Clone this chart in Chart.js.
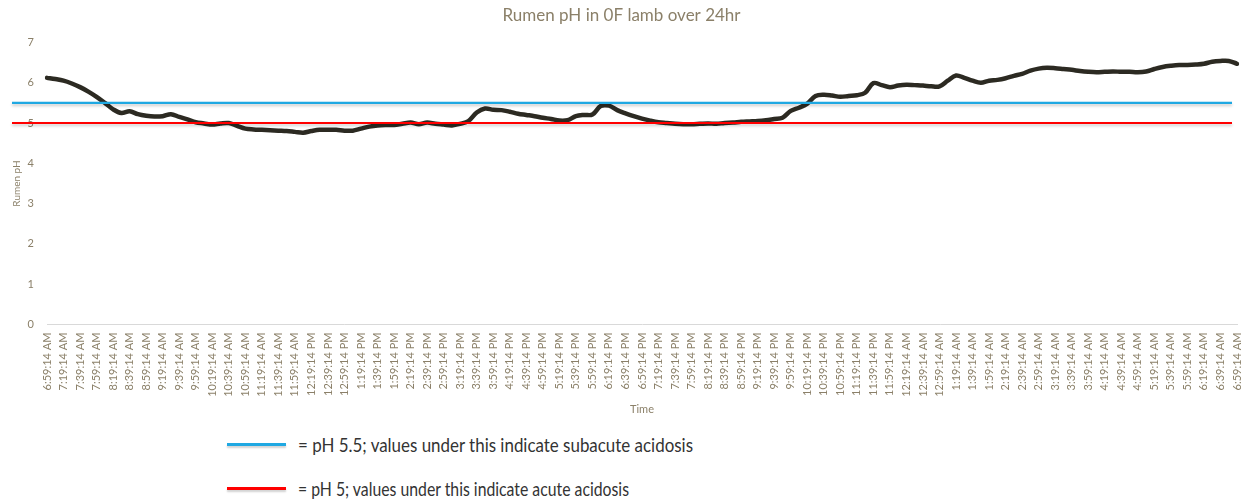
<!DOCTYPE html>
<html>
<head>
<meta charset="utf-8">
<script src="https://cdn.jsdelivr.net/npm/chart.js@4/dist/chart.umd.min.js"></script>
<style>
  html, body { margin: 0; padding: 0; background: #fff; }
  body { width: 1243px; height: 504px; position: relative; overflow: hidden; font-family: "Lato", "Noto Sans", sans-serif; }
  #wrap { position: absolute; left: 0; top: 0; width: 1243px; height: 420px; }
  .leg { position: absolute; left: 227px; height: 24px; color: #333; font-size: 20px; white-space: nowrap; }
  .leg .sw { position: absolute; left: 0; top: 11px; width: 59px; height: 3px; box-shadow: 0 2px 2px rgba(0,0,0,0.18); }
  .leg .tx { position: absolute; left: 71px; top: 0; line-height: 24px; transform-origin: 0 50%; display: inline-block; }
</style>
</head>
<body>
<div id="wrap"><canvas id="c" width="1243" height="420"></canvas></div>
<div class="leg" style="top:432px"><span class="sw" style="background:#1fa8e2"></span><span class="tx">= pH 5.5; values under this indicate subacute acidosis</span></div>
<div class="leg" style="top:476px"><span class="sw" style="background:#ff0000"></span><span class="tx">= pH 5; values under this indicate acute acidosis</span></div>
<script>
// Tick labels every 20 minutes
const tickLabels = [
  "6:59:14 AM","7:19:14 AM","7:39:14 AM","7:59:14 AM","8:19:14 AM","8:39:14 AM","8:59:14 AM","9:19:14 AM","9:39:14 AM","9:59:14 AM",
  "10:19:14 AM","10:39:14 AM","10:59:14 AM","11:19:14 AM","11:39:14 AM","11:59:14 AM","12:19:14 PM","12:39:14 PM","12:59:14 PM",
  "1:19:14 PM","1:39:14 PM","1:59:14 PM","2:19:14 PM","2:39:14 PM","2:59:14 PM","3:19:14 PM","3:39:14 PM","3:59:14 PM",
  "4:19:14 PM","4:39:14 PM","4:59:14 PM","5:19:14 PM","5:39:14 PM","5:59:14 PM","6:19:14 PM","6:39:14 PM","6:59:14 PM",
  "7:19:14 PM","7:39:14 PM","7:59:14 PM","8:19:14 PM","8:39:14 PM","8:59:14 PM","9:19:14 PM","9:39:14 PM","9:59:14 PM",
  "10:19:14 PM","10:39:14 PM","10:59:14 PM","11:19:14 PM","11:39:14 PM","11:59:14 PM","12:19:14 AM","12:39:14 AM","12:59:14 AM",
  "1:19:14 AM","1:39:14 AM","1:59:14 AM","2:19:14 AM","2:39:14 AM","2:59:14 AM","3:19:14 AM","3:39:14 AM","3:59:14 AM",
  "4:19:14 AM","4:39:14 AM","4:59:14 AM","5:19:14 AM","5:39:14 AM","5:59:14 AM","6:19:14 AM","6:39:14 AM","6:59:14 AM"
];

// Rumen pH readings, one every 10 minutes (145 readings)
const rumenPH = [
  6.12,6.09,6.05,5.98,5.89,5.78,5.65,5.50,5.34,5.25,
  5.29,5.22,5.18,5.16,5.17,5.22,5.15,5.09,5.02,4.99,
  4.96,4.99,5.00,4.93,4.86,4.84,4.83,4.82,4.81,4.80,
  4.78,4.76,4.80,4.83,4.83,4.83,4.81,4.81,4.86,4.91,
  4.94,4.95,4.95,4.98,5.01,4.97,5.01,4.98,4.96,4.94,
  4.98,5.05,5.26,5.36,5.33,5.32,5.28,5.23,5.20,5.17,
  5.13,5.10,5.06,5.07,5.17,5.20,5.21,5.42,5.43,5.32,
  5.24,5.17,5.11,5.06,5.02,5.00,4.98,4.97,4.97,4.98,
  4.99,4.98,5.00,5.01,5.03,5.04,5.05,5.07,5.10,5.13,
  5.30,5.38,5.48,5.67,5.70,5.68,5.65,5.67,5.69,5.75,
  5.99,5.94,5.89,5.93,5.95,5.94,5.93,5.91,5.91,6.05,
  6.18,6.12,6.05,6.00,6.05,6.07,6.11,6.17,6.22,6.30,
  6.35,6.37,6.36,6.34,6.32,6.29,6.27,6.26,6.27,6.28,
  6.27,6.27,6.26,6.28,6.34,6.39,6.42,6.44,6.44,6.45,
  6.47,6.52,6.54,6.54,6.47
];

// Reference thresholds
const thresholdValues = [5.5, 5.0];
const thresholdColors = ["#1fa8e2", "#ff0000"];

const categories = rumenPH.map((_, i) => (i % 2 === 0 ? tickLabels[i / 2] : ""));

const TXT = "#8b8069";
const FONT = "Lato, 'Noto Sans', sans-serif";

const thresholdPlugin = {
  id: "thresholds",
  afterDatasetsDraw(chart) {
    const ctx = chart.ctx, y = chart.scales.y, area = chart.chartArea;
    ctx.save();
    thresholdValues.forEach((v, k) => {
      const py = y.getPixelForValue(v);
      ctx.shadowColor = "rgba(0,0,0,0.22)";
      ctx.shadowBlur = 3;
      ctx.shadowOffsetY = 2;
      ctx.strokeStyle = thresholdColors[k];
      ctx.lineWidth = 2.2;
      ctx.beginPath();
      ctx.moveTo(area.left - 35, py);
      ctx.lineTo(area.right - 5, py);
      ctx.stroke();
    });
    ctx.restore();
  }
};

new Chart(document.getElementById("c"), {
  type: "line",
  data: {
    labels: categories,
    datasets: [{
      label: "Rumen pH",
      data: rumenPH,
      borderColor: "#2c2a22",
      borderWidth: 4.5,
      pointRadius: 0,
      tension: 0.35,
      fill: false,
      borderCapStyle: "round",
      borderJoinStyle: "round"
    }]
  },
  options: {
    responsive: false,
    animation: false,
    layout: { padding: { left: 0, right: 0, top: 0, bottom: 2 } },
    plugins: {
      legend: { display: false },
      tooltip: { enabled: false },
      title: {
        display: true,
        text: "Rumen pH in 0F lamb over 24hr",
        color: TXT,
        font: { family: FONT, size: 17, weight: "normal" },
        padding: { top: 5, bottom: 17 }
      }
    },
    scales: {
      x: {
        grid: { display: false, drawTicks: false },
        border: { display: true, color: "#d9d9d9", width: 1 },
        afterFit: (s) => { s.paddingRight = 6; s.paddingLeft = 0; },
        ticks: {
          autoSkip: false,
          maxRotation: 90,
          minRotation: 90,
          color: TXT,
          padding: 8,
          font: { family: FONT, size: 11 }
        },
        title: {
          display: true,
          text: "Time",
          color: TXT,
          font: { family: FONT, size: 11 },
          padding: { top: -2, bottom: 2 }
        }
      },
      y: {
        min: 0,
        max: 7,
        grid: { display: false, drawTicks: false },
        border: { display: false },
        afterFit: (s) => { s.width = 47; },
        ticks: {
          stepSize: 1,
          color: TXT,
          padding: 13,
          font: { family: FONT, size: 11 }
        },
        title: {
          display: true,
          text: "Rumen pH",
          color: TXT,
          font: { family: FONT, size: 10 },
          padding: { top: 11, bottom: 0 }
        }
      }
    }
  },
  plugins: [thresholdPlugin]
});

// fit legend text widths to the reference proportions
const targetW = [395, 331];
document.querySelectorAll(".leg .tx").forEach((el, i) => {
  const w = el.getBoundingClientRect().width;
  el.style.transform = "scaleX(" + (targetW[i] / w) + ")";
});
</script>
</body>
</html>
